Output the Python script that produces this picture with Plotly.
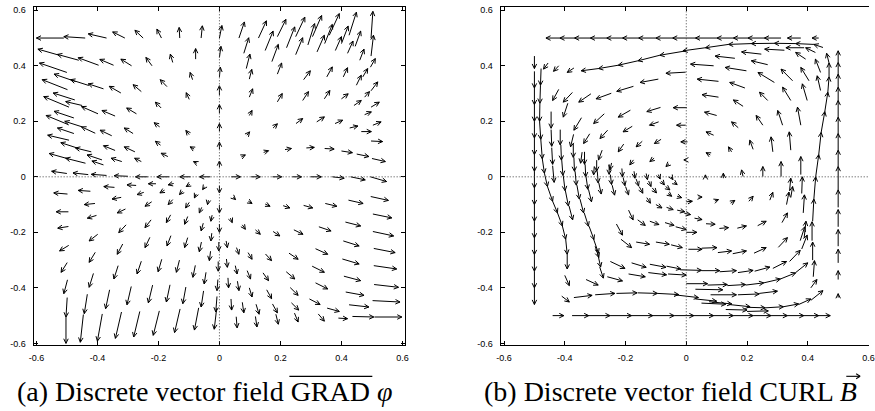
import numpy as np
import plotly.graph_objects as go

# ---------------- tick labels ----------------
tick_vals = [-0.6, -0.4, -0.2, 0, 0.2, 0.4, 0.6]
tick_text = ["-0.6", "-0.4", "-0.2", "0", "0.2", "0.4", "0.6"]

# ---------------- (a) GRAD field: tail x, tail y, u, v ----------------
gul_x = [-0.51,-0.44,-0.37,-0.31,-0.25,-0.19,-0.13,-0.06,
 -0.525,-0.461,-0.396,-0.347,-0.288,-0.221,-0.153,-0.078,
 -0.500,-0.471,-0.498,-0.428,-0.380,-0.323,-0.256,-0.172,-0.088,
 -0.474,-0.493,-0.450,-0.398,-0.342,-0.272,-0.191,-0.099,
 -0.477,-0.495,-0.450,-0.407,-0.353,-0.283,-0.196,-0.099,
 -0.477,-0.493,-0.461,-0.420,-0.385,-0.342,-0.277,-0.193,-0.083,
 -0.493,-0.439,-0.380,-0.320,-0.256,-0.169,-0.074,
 -0.50,-0.43,-0.37,-0.30,-0.235,-0.165,-0.095,-0.03]
gul_y = [0.50,0.50,0.50,0.50,0.50,0.50,0.50,0.50,
 0.438,0.420,0.402,0.402,0.400,0.400,0.412,0.424,
 0.376,0.343,0.314,0.329,0.317,0.302,0.307,0.325,0.350,
 0.277,0.251,0.257,0.227,0.219,0.227,0.248,0.279,
 0.212,0.188,0.180,0.157,0.148,0.156,0.180,0.152,
 0.156,0.132,0.102,0.090,0.061,0.095,0.090,0.114,0.100,
 0.064,0.049,0.043,0.055,0.055,0.073,0.049,
 0.012,0.008,0.005,0.002,0.0,0.0,0.0,0.0]
gul_u = [-0.09,-0.07,-0.06,-0.04,-0.027,-0.015,-0.002,0.004,
 -0.070,-0.070,-0.067,-0.045,-0.035,-0.020,-0.008,0.0,
 -0.090,-0.071,-0.083,-0.060,-0.050,-0.038,-0.027,-0.022,-0.008,
 -0.071,-0.083,-0.054,-0.054,-0.043,-0.032,-0.019,-0.010,
 -0.065,-0.073,-0.057,-0.045,-0.038,-0.029,-0.018,-0.011,
 -0.054,-0.070,-0.059,-0.052,-0.049,-0.038,-0.035,-0.017,-0.013,
 -0.065,-0.065,-0.038,-0.035,-0.022,-0.022,-0.011,
 -0.05,-0.05,-0.05,-0.045,-0.04,-0.04,-0.035,-0.035]
gul_v = [0.0,0.005,0.015,0.022,0.028,0.032,0.038,0.044,
 0.022,0.021,0.027,0.021,0.024,0.030,0.030,0.038,
 0.034,0.027,0.036,0.021,0.018,0.024,0.025,0.025,0.026,
 0.025,0.038,0.014,0.026,0.020,0.021,0.021,0.024,
 0.024,0.033,0.020,0.023,0.020,0.020,0.015,0.015,
 0.020,0.018,0.021,0.014,0.018,0.017,0.018,0.014,0.008,
 0.020,0.018,0.014,0.012,0.012,0.012,0.006,
 0.008,0.006,0.004,0.002,0.0,0.0,0.0,0.0]

gax_x = [0.0,0.0,0.0,0.0,0.0,0.0,0.0,0.0, 0.0,0.0,0.0,-0.002,-0.004]
gax_y = [0.50,0.43,0.36,0.295,0.23,0.165,0.10,0.035, -0.033,-0.102,-0.17,-0.235,-0.305]
gax_u = [0.008,0.005,0.003,0.0,0.0,0.0,0.0,0.0, 0.0,0.0,0.0,0.0,0.0]
gax_v = [0.045,0.04,0.035,0.033,0.03,0.027,0.025,0.022, -0.025,-0.028,-0.03,-0.032,-0.035]

gur_x = [0.064,0.128,0.19,0.25,0.305,0.36,0.425,0.497,
 0.080,0.150,0.22,0.29,0.345,0.40,0.445,0.497,
 0.088,0.172,0.25,0.32,0.38,0.42,0.46,0.495,
 0.098,0.19,0.276,0.352,0.406,0.449,0.47,0.497,
 0.098,0.19,0.273,0.344,0.40,0.441,0.476,0.497,
 0.098,0.176,0.251,0.319,0.379,0.427,0.476,0.503,
 0.09,0.465,0.497,
 0.072,0.145,0.215,0.285,0.345,0.40,0.45,0.50,
 0.039,0.104,0.174,0.239,0.299,0.37,0.43,0.495]
gur_y = [0.50,0.50,0.505,0.505,0.505,0.51,0.51,0.50,
 0.445,0.455,0.465,0.475,0.48,0.48,0.47,0.435,
 0.39,0.415,0.44,0.45,0.455,0.445,0.42,0.395,
 0.352,0.37,0.35,0.36,0.36,0.33,0.36,0.31,
 0.287,0.27,0.275,0.281,0.281,0.257,0.287,0.251,
 0.221,0.176,0.192,0.198,0.192,0.176,0.224,0.186,
 0.15,0.163,0.129,
 0.072,0.088,0.098,0.104,0.102,0.093,0.082,0.066,
 0.0,0.0,0.0,0.0,0.0,0.0,0.0,0.0]
gur_u = [0.018,0.026,0.028,0.03,0.03,0.033,0.024,0.006,
 0.016,0.026,0.027,0.022,0.025,0.022,0.018,0.008,
 0.012,0.021,0.023,0.024,0.02,0.018,0.014,0.016,
 0.008,0.014,0.022,0.018,0.014,0.016,0.016,0.022,
 0.011,0.016,0.019,0.018,0.022,0.024,0.016,0.027,
 0.009,0.014,0.022,0.025,0.025,0.027,0.022,0.027,
 0.009,0.033,0.038,
 0.013,0.016,0.021,0.026,0.031,0.036,0.04,0.044,
 0.03,0.03,0.03,0.03,0.035,0.039,0.048,0.053]
gur_v = [0.058,0.062,0.062,0.07,0.076,0.078,0.083,0.096,
 0.056,0.07,0.075,0.077,0.069,0.063,0.055,0.075,
 0.052,0.062,0.061,0.06,0.05,0.044,0.04,0.031,
 0.035,0.04,0.032,0.036,0.033,0.036,0.03,0.032,
 0.03,0.03,0.032,0.03,0.018,0.018,0.02,0.018,
 0.018,0.015,0.018,0.018,0.012,0.007,0.01,0.012,
 0.012,0.0,-0.002,
 0.007,0.006,0.004,0.002,-0.002,-0.006,-0.009,-0.011,
 0.0,0.0,0.0,0.0,0.0,-0.005,-0.011,-0.017]

gll_x = [-0.498,-0.423,-0.344,-0.273,-0.208,-0.150,-0.097,-0.049,
 -0.495,-0.408,-0.322,-0.248,-0.180,-0.121,-0.076,-0.036,
 -0.495,-0.403,-0.308,-0.222,-0.153,-0.099,-0.058,-0.024,
 -0.494,-0.399,-0.306,-0.224,-0.160,-0.104,-0.053,-0.025,
 -0.499,-0.407,-0.317,-0.228,-0.159,-0.104,-0.059,-0.029,
 -0.498,-0.413,-0.332,-0.256,-0.189,-0.131,-0.079,-0.044,-0.005,
 -0.499,-0.433,-0.360,-0.289,-0.219,-0.162,-0.110,-0.052,-0.008,
 -0.503,-0.446,-0.384,-0.321,-0.261,-0.197,-0.129,-0.068,-0.009]
gll_y = [-0.062,-0.052,-0.038,-0.031,-0.025,-0.024,-0.027,-0.036,
 -0.126,-0.096,-0.074,-0.056,-0.048,-0.052,-0.062,-0.084,
 -0.179,-0.139,-0.116,-0.090,-0.082,-0.092,-0.110,-0.138,
 -0.247,-0.207,-0.173,-0.155,-0.137,-0.143,-0.167,-0.203,
 -0.309,-0.272,-0.242,-0.218,-0.212,-0.219,-0.235,-0.268,
 -0.371,-0.348,-0.320,-0.304,-0.297,-0.300,-0.319,-0.344,-0.370,
 -0.435,-0.423,-0.407,-0.395,-0.390,-0.389,-0.397,-0.411,-0.431,
 -0.505,-0.496,-0.494,-0.487,-0.485,-0.483,-0.476,-0.472,-0.474]
gll_u = [-0.045,-0.04,-0.035,-0.03,-0.025,-0.018,-0.012,-0.006,
 -0.04,-0.035,-0.03,-0.022,-0.015,-0.01,-0.006,-0.003,
 -0.035,-0.03,-0.027,-0.022,-0.015,-0.012,-0.008,-0.004,
 -0.03,-0.028,-0.024,-0.02,-0.014,-0.01,-0.007,-0.003,
 -0.02,-0.02,-0.018,-0.016,-0.013,-0.01,-0.007,-0.004,
 -0.012,-0.014,-0.014,-0.014,-0.012,-0.01,-0.008,-0.006,-0.003,
 -0.004,-0.01,-0.013,-0.014,-0.014,-0.012,-0.01,-0.008,-0.004,
 0.0,-0.01,-0.016,-0.02,-0.02,-0.02,-0.018,-0.014,-0.008]
gll_v = [0.004,0.003,0.003,0.002,0.0,-0.005,-0.008,-0.01,
 0.0,-0.004,-0.006,-0.008,-0.01,-0.012,-0.014,-0.016,
 -0.006,-0.01,-0.014,-0.016,-0.018,-0.02,-0.02,-0.022,
 -0.02,-0.024,-0.028,-0.028,-0.028,-0.028,-0.028,-0.028,
 -0.035,-0.036,-0.037,-0.037,-0.037,-0.036,-0.035,-0.034,
 -0.05,-0.05,-0.048,-0.046,-0.045,-0.044,-0.043,-0.042,-0.04,
 -0.07,-0.07,-0.068,-0.066,-0.064,-0.062,-0.06,-0.058,-0.056,
 -0.095,-0.1,-0.098,-0.095,-0.092,-0.088,-0.085,-0.08,-0.075]

glr_x = [0.045,0.095,0.150,0.209,0.276,0.347,0.423,0.496,
 0.036,0.075,0.118,0.176,0.244,0.326,0.413,0.503,
 0.022,0.056,0.094,0.151,0.228,0.315,0.406,0.503,
 0.023,0.052,0.091,0.143,0.219,0.304,0.403,0.506,
 0.028,0.059,0.098,0.155,0.232,0.315,0.408,0.506,
 0.038,0.075,0.12,0.174,0.236,0.295,0.414,0.507,
 0.055,0.118,0.185,0.246,0.324,0.353,0.425,0.502,
 0.39,0.436,0.508]
glr_y = [-0.074,-0.088,-0.098,-0.104,-0.103,-0.096,-0.084,-0.071,
 -0.149,-0.173,-0.191,-0.197,-0.191,-0.180,-0.163,-0.134,
 -0.231,-0.255,-0.273,-0.278,-0.275,-0.259,-0.231,-0.197,
 -0.296,-0.320,-0.338,-0.346,-0.342,-0.322,-0.296,-0.258,
 -0.364,-0.376,-0.400,-0.407,-0.399,-0.382,-0.358,-0.320,
 -0.44,-0.452,-0.459,-0.458,-0.454,-0.44,-0.415,-0.388,
 -0.504,-0.503,-0.495,-0.491,-0.494,-0.473,-0.461,-0.446,
 -0.509,-0.503,-0.505]
glr_u = [0.008,0.012,0.016,0.022,0.03,0.038,0.048,0.058,
 0.006,0.01,0.016,0.022,0.03,0.04,0.05,0.062,
 0.004,0.008,0.013,0.02,0.03,0.04,0.052,0.068,
 0.003,0.006,0.011,0.018,0.028,0.04,0.055,0.07,
 0.002,0.005,0.009,0.016,0.026,0.04,0.055,0.075,
 0.002,0.005,0.01,0.016,0.024,0.035,0.06,0.08,
 0.003,0.005,0.008,0.012,0.02,0.04,0.065,0.09,
 0.03,0.07,0.09]
glr_v = [-0.008,-0.008,-0.008,-0.008,-0.009,-0.01,-0.012,-0.014,
 -0.016,-0.016,-0.016,-0.016,-0.016,-0.015,-0.014,-0.014,
 -0.024,-0.024,-0.024,-0.024,-0.022,-0.02,-0.018,-0.016,
 -0.03,-0.03,-0.03,-0.028,-0.026,-0.022,-0.018,-0.015,
 -0.036,-0.034,-0.033,-0.032,-0.028,-0.022,-0.016,-0.012,
 -0.04,-0.038,-0.036,-0.032,-0.026,-0.02,-0.012,-0.01,
 -0.04,-0.038,-0.036,-0.032,-0.026,-0.012,-0.008,-0.005,
 -0.002,-0.002,0.0]

# ---------------- (b) CURL field: tail x, tail y, u, v ----------------
c1t_x = [-0.416,-0.368,-0.316,-0.262,-0.210,-0.157,-0.100,-0.045,0.030,0.101,0.155,0.203,0.257,0.312,0.377,0.436]
c1t_y = [0.5,0.5,0.5,0.5,0.5,0.5,0.5,0.5,0.5,0.5,0.5,0.5,0.5,0.5,0.5,0.5]
c1t_u = [-0.046,-0.048,-0.052,-0.054,-0.052,-0.053,-0.057,-0.055,-0.075,-0.071,-0.054,-0.048,-0.054,-0.055,-0.044,-0.022]
c1t_v = [0.0,0.0,0.0,0.0,0.0,0.0,0.0,0.0,0.0,0.0,0.0,0.0,0.0,0.0,0.0,0.0]

c1l_x = [-0.5,-0.5,-0.5,-0.5,-0.5,-0.5,-0.5,-0.5,-0.5,-0.5,-0.5,-0.5,-0.5,-0.5,-0.5]
c1l_y = [0.435,0.38,0.32,0.26,0.20,0.14,0.08,0.02,-0.04,-0.10,-0.16,-0.22,-0.28,-0.34,-0.40]
c1l_u = [0.0,0.0,0.0,0.0,0.0,0.0,0.0,0.0,0.0,0.0,0.0,0.0,0.0,0.0,0.0]
c1l_v = [-0.045,-0.06,-0.06,-0.06,-0.06,-0.06,-0.06,-0.06,-0.06,-0.06,-0.06,-0.06,-0.06,-0.06,-0.06]

c1b_x = [-0.440,-0.376,-0.321,-0.251,-0.180,-0.110,-0.040,0.025,0.090,0.155,0.220,0.279,0.333,0.387,0.436]
c1b_y = [-0.5,-0.5,-0.5,-0.5,-0.5,-0.5,-0.5,-0.5,-0.5,-0.5,-0.5,-0.5,-0.5,-0.5,-0.5]
c1b_u = [0.037,0.055,0.070,0.071,0.070,0.070,0.065,0.065,0.065,0.065,0.059,0.054,0.054,0.049,0.038]
c1b_v = [0.0,0.0,0.0,0.0,0.0,0.0,0.0,0.0,0.0,0.0,0.0,0.0,0.0,0.0,0.0]

c1r_x = [0.5,0.5,0.5,0.5,0.5,0.5,0.5,0.5,0.5,0.5,0.5,0.5,0.5,0.5,0.5]
c1r_y = [-0.435,-0.37,-0.31,-0.25,-0.18,-0.11,-0.047,0.037,0.096,0.156,0.215,0.275,0.323,0.370,0.412]
c1r_u = [0.0,0.0,0.0,0.0,0.0,0.0,0.0,0.0,0.0,0.0,0.0,0.0,0.0,0.0,0.0]
c1r_v = [0.014,0.032,0.049,0.06,0.062,0.063,0.084,0.059,0.06,0.059,0.06,0.048,0.047,0.042,0.042]

c2t_x = [0.450,0.420,0.360,0.290,0.214,0.139,0.063,0.0,-0.087,-0.159,-0.224,-0.289,-0.37,-0.42,-0.455]
c2t_y = [0.466,0.477,0.480,0.481,0.480,0.477,0.465,0.454,0.438,0.418,0.402,0.390,0.392,0.40,0.41]
c2t_u = [-0.030,-0.060,-0.070,-0.076,-0.075,-0.076,-0.074,-0.087,-0.072,-0.065,-0.065,-0.057,-0.022,-0.017,-0.015]
c2t_v = [0.011,0.003,0.001,-0.001,-0.003,-0.012,-0.011,-0.016,-0.020,-0.016,-0.012,-0.008,-0.016,-0.02,-0.022]

c2l_x = [-0.478,-0.480,-0.482,-0.483,-0.479,-0.474,-0.467,-0.457,-0.440,-0.424,-0.408,-0.397,-0.392,-0.40,-0.41]
c2l_y = [0.39,0.33,0.265,0.20,0.135,0.065,0.013,-0.035,-0.088,-0.13,-0.177,-0.225,-0.279,-0.355,-0.43]
c2l_u = [-0.002,-0.002,-0.001,0.004,0.005,0.007,0.010,0.017,0.016,0.016,0.011,0.005,0.0,0.015,0.025]
c2l_v = [-0.06,-0.065,-0.065,-0.065,-0.07,-0.052,-0.048,-0.053,-0.042,-0.047,-0.048,-0.054,-0.053,-0.037,-0.021]

c2b_x = [-0.37,-0.30,-0.23,-0.16,-0.095,-0.04,0.03,0.075,0.14,0.2,0.26,0.32,0.37,0.41]
c2b_y = [-0.435,-0.425,-0.42,-0.418,-0.42,-0.425,-0.44,-0.45,-0.46,-0.47,-0.472,-0.468,-0.46,-0.445]
c2b_u = [0.06,0.065,0.068,0.065,0.07,0.08,0.07,0.075,0.07,0.06,0.06,0.05,0.04,0.04]
c2b_v = [0.008,0.005,0.002,-0.002,-0.004,-0.01,-0.008,-0.008,-0.008,-0.002,0.004,0.01,0.02,0.035]

c2r_x = [0.41,0.418,0.416,0.414,0.416,0.42,0.426,0.436,0.444,0.456,0.466,0.47,0.47]
c2r_y = [-0.40,-0.36,-0.30,-0.23,-0.16,-0.08,0.0,0.08,0.16,0.235,0.305,0.36,0.41]
c2r_u = [0.02,0.004,0.0,0.0,0.004,0.006,0.01,0.008,0.012,0.01,0.004,0.0,-0.008]
c2r_v = [0.03,0.058,0.065,0.068,0.08,0.08,0.08,0.08,0.075,0.07,0.055,0.05,0.035]

cur_x = [0.09,0.106,0.106,0.10,0.09,0.079,
 0.16,0.198,0.193,0.187,0.171,0.149,
 0.247,0.268,0.29,0.268,0.252,0.22,0.187,
 0.323,0.35,0.344,0.317,0.285,0.252,0.122,0.063,
 0.388,0.393,0.404,0.398,0.377,0.344,0.312,
 0.425,0.442,0.442,0.377]
cur_y = [0.40,0.344,0.287,0.221,0.15,0.079,
 0.427,0.382,0.320,0.254,0.177,0.090,
 0.442,0.404,0.34,0.275,0.186,0.099,0.001,
 0.456,0.346,0.275,0.186,0.090,0.001,-0.005,-0.003,
 0.465,0.424,0.346,0.275,0.186,0.096,0.001,
 0.448,0.376,0.311,0.008]
cur_u = [-0.076,-0.07,-0.054,-0.04,-0.025,-0.014,
 -0.065,-0.07,-0.05,-0.032,-0.022,-0.01,
 -0.065,-0.054,-0.054,-0.027,-0.022,-0.011,-0.005,
 -0.065,-0.038,-0.027,-0.016,-0.006,0.0,0.0,0.0,
 -0.06,-0.033,-0.027,-0.016,-0.011,-0.005,0.0,
 -0.032,-0.017,-0.011,0.0]
cur_v = [0.006,0.008,0.009,0.012,0.012,0.008,
 0.008,0.012,0.02,0.023,0.021,0.018,
 0.008,0.014,0.036,0.03,0.035,0.033,0.024,
 0.004,0.042,0.048,0.053,0.054,0.036,0.018,0.01,
 0.0,0.024,0.048,0.06,0.065,0.066,0.054,
 0.017,0.048,0.053,0.065]

cul_x = [-0.420,-0.375,-0.314,-0.247,-0.174,-0.092,-0.002,
 -0.39,-0.345,-0.27,-0.184,-0.085,0.002,
 -0.371,-0.318,-0.259,-0.178,-0.091,-0.002,
 -0.343,-0.277,-0.206,-0.145,-0.083,0.004,
 -0.303,-0.246,-0.174,-0.106,-0.057,0.0,
 -0.445,-0.445,-0.443,-0.44]
cul_y = [0.315,0.304,0.299,0.301,0.326,0.352,0.377,
 0.265,0.213,0.227,0.24,0.25,0.249,
 0.153,0.155,0.168,0.182,0.198,0.186,
 0.089,0.096,0.118,0.128,0.135,0.126,
 0.037,0.05,0.061,0.067,0.047,0.061,
 0.235,0.17,0.105,0.04]
cul_u = [-0.02,-0.03,-0.04,-0.05,-0.055,-0.06,-0.065,
 -0.015,-0.025,-0.035,-0.04,-0.045,-0.045,
 -0.01,-0.02,-0.025,-0.03,-0.03,-0.03,
 -0.005,-0.012,-0.018,-0.02,-0.022,-0.022,
 -0.002,-0.005,-0.012,-0.014,-0.01,-0.008,
 0.0,0.002,0.003,0.005]
cul_v = [-0.04,-0.035,-0.03,-0.02,-0.018,-0.012,-0.004,
 -0.05,-0.045,-0.035,-0.025,-0.015,0.0,
 -0.045,-0.035,-0.03,-0.02,-0.012,0.0,
 -0.04,-0.035,-0.028,-0.02,-0.015,0.0,
 -0.03,-0.025,-0.018,-0.012,-0.01,0.0,
 -0.06,-0.06,-0.06,-0.06]

cld_x = [-0.415,-0.413,-0.41,-0.405,-0.398,-0.386,
 -0.372,-0.37,-0.366,-0.36,-0.35,-0.336,-0.32,-0.305,-0.292,-0.285,
 -0.335,-0.333,-0.33,-0.322,
 -0.295,-0.293,-0.288,
 -0.254,-0.25,-0.244,
 -0.212,-0.208,-0.2,
 -0.172,-0.165,-0.155,
 -0.132,-0.124,-0.112,
 -0.092,-0.082,-0.068,
 -0.05,-0.04]
cld_y = [0.17,0.115,0.06,0.005,-0.05,-0.105,
 0.12,0.07,0.02,-0.03,-0.08,-0.13,-0.178,-0.225,-0.275,-0.325,
 0.09,0.045,0.0,-0.045,
 0.06,0.02,-0.022,
 0.045,0.008,-0.03,
 0.03,-0.002,-0.035,
 0.02,-0.008,-0.035,
 0.012,-0.015,-0.04,
 0.008,-0.015,-0.035,
 0.0,-0.02]
cld_u = [0.0,0.002,0.004,0.006,0.01,0.012,
 0.0,0.002,0.004,0.008,0.012,0.014,0.016,0.016,0.01,0.012,
 0.0,0.002,0.006,0.01,
 0.0,0.003,0.008,
 0.0,0.004,0.008,
 0.002,0.006,0.01,
 0.003,0.008,0.012,
 0.004,0.008,0.014,
 0.006,0.01,0.014,
 0.006,0.01]
cld_v = [-0.055,-0.055,-0.055,-0.055,-0.055,-0.05,
 -0.05,-0.05,-0.05,-0.05,-0.05,-0.048,-0.048,-0.05,-0.05,-0.04,
 -0.045,-0.045,-0.045,-0.045,
 -0.04,-0.042,-0.04,
 -0.036,-0.036,-0.036,
 -0.03,-0.03,-0.03,
 -0.025,-0.025,-0.024,
 -0.022,-0.02,-0.018,
 -0.016,-0.014,-0.012,
 -0.01,-0.008]

clb_x = [-0.33,-0.26,-0.19,-0.125,-0.06,
 -0.30,-0.25,-0.18,-0.12,-0.065,
 -0.23,-0.215,-0.165,-0.10,-0.05,
 -0.19,-0.16,-0.12,-0.07,-0.035,
 -0.13,-0.1,-0.065,-0.03,
 -0.06,-0.03]
clb_y = [-0.37,-0.36,-0.35,-0.345,-0.35,
 -0.25,-0.305,-0.31,-0.315,-0.322,
 -0.17,-0.225,-0.235,-0.235,-0.245,
 -0.12,-0.155,-0.16,-0.165,-0.18,
 -0.075,-0.1,-0.11,-0.12,
 -0.06,-0.07]
clb_u = [0.04,0.05,0.055,0.06,0.06,
 0.012,0.048,0.048,0.053,0.047,
 0.02,0.035,0.044,0.044,0.037,
 0.015,0.025,0.03,0.03,0.035,
 0.012,0.02,0.022,0.025,
 0.012,0.015]
clb_v = [-0.02,-0.015,-0.01,-0.008,-0.004,
 -0.04,-0.025,-0.016,-0.011,-0.01,
 -0.04,-0.03,-0.008,-0.008,-0.01,
 -0.035,-0.02,-0.012,-0.01,-0.01,
 -0.02,-0.012,-0.008,-0.006,
 -0.01,-0.005]

clr_x = [0.04,0.094,0.146,0.206,0.275,0.344,
 -0.006,0.027,0.065,0.109,0.168,0.235,0.315,
 0.007,0.051,0.104,0.153,0.223,0.303,0.375,
 -0.02,0.05,0.11,0.17,0.225,0.285,0.34,0.38,
 0.0,0.07,0.135,0.195,0.255,0.31,0.36,
 0.03,0.08,0.17,0.24,
 0.05,0.13,0.2,
 0.0,0.0,
 0.388,0.385,0.38,0.33,0.34]
clr_y = [-0.073,-0.087,-0.095,-0.088,-0.084,-0.075,
 -0.132,-0.149,-0.169,-0.186,-0.185,-0.176,-0.165,
 -0.261,-0.257,-0.273,-0.277,-0.275,-0.254,-0.23,
 -0.335,-0.338,-0.342,-0.345,-0.34,-0.33,-0.305,-0.26,
 -0.385,-0.39,-0.392,-0.39,-0.382,-0.368,-0.345,
 -0.405,-0.425,-0.425,-0.42,
 -0.455,-0.478,-0.485,
 -0.09,-0.2,
 -0.22,-0.13,-0.06,-0.1,-0.05]
clr_u = [0.012,0.012,0.014,0.014,0.01,0.006,
 0.02,0.025,0.03,0.03,0.03,0.028,0.018,
 0.045,0.05,0.045,0.045,0.04,0.03,0.015,
 0.07,0.06,0.055,0.05,0.05,0.045,0.035,0.018,
 0.07,0.065,0.06,0.06,0.055,0.05,0.04,
 0.09,0.085,0.07,0.06,
 0.08,0.07,0.07,
 0.02,0.035,
 0.006,0.004,0.002,0.008,0.004]
clr_v = [0.0,0.005,0.01,0.018,0.028,0.04,
 -0.004,-0.005,-0.002,0.003,0.008,0.016,0.035,
 0.0,0.002,0.006,0.01,0.02,0.035,0.05,
 -0.002,0.0,0.004,0.008,0.015,0.025,0.04,0.05,
 0.0,0.002,0.004,0.008,0.014,0.022,0.035,
 -0.002,0.0,0.003,0.008,
 -0.004,-0.002,0.002,
 0.002,0.0,
 0.06,0.065,0.06,0.045,0.045]

grad_groups = [(gul_x, gul_y, gul_u, gul_v), (gax_x, gax_y, gax_u, gax_v),
               (gur_x, gur_y, gur_u, gur_v), (gll_x, gll_y, gll_u, gll_v),
               (glr_x, glr_y, glr_u, glr_v)]
curl_groups = [(c1t_x, c1t_y, c1t_u, c1t_v), (c1l_x, c1l_y, c1l_u, c1l_v),
               (c1b_x, c1b_y, c1b_u, c1b_v), (c1r_x, c1r_y, c1r_u, c1r_v),
               (c2t_x, c2t_y, c2t_u, c2t_v), (c2l_x, c2l_y, c2l_u, c2l_v),
               (c2b_x, c2b_y, c2b_u, c2b_v), (c2r_x, c2r_y, c2r_u, c2r_v),
               (cur_x, cur_y, cur_u, cur_v), (cul_x, cul_y, cul_u, cul_v),
               (cld_x, cld_y, cld_u, cld_v), (clb_x, clb_y, clb_u, clb_v),
               (clr_x, clr_y, clr_u, clr_v)]

# ---------------- layout geometry ----------------
W, H = 875, 411
dom_x1 = [29 / W, 405 / W]
dom_x2 = [502 / W, 1.0]
dom_y = [(H - 347.7) / H, (H - 6) / H]
rng_x1 = [-0.609, 0.608]
rng_x2 = [-0.611, 0.6015]
rng_y = [-0.607, 0.612]

HEAD = 5.2
ANG = np.radians(26)


def px_scale(dom, rng, total):
    return (dom[1] - dom[0]) * total / (rng[1] - rng[0])


def quiver(groups, sx, sy):
    X, Y = [], []
    for xs, ys, us, vs in groups:
        n = min(len(xs), len(ys), len(us), len(vs))
        for x, y, u, v in zip(xs[:n], ys[:n], us[:n], vs[:n]):
            x1, y1 = x + u, y + v
            X += [x, x1, None]
            Y += [y, y1, None]
            du, dv = u * sx, v * sy
            L = float(np.hypot(du, dv))
            if L < 1e-9:
                continue
            ex, ey = du / L, dv / L
            pts = []
            for s in (1, -1):
                a = s * ANG
                rx = ex * np.cos(a) - ey * np.sin(a)
                ry = ex * np.sin(a) + ey * np.cos(a)
                pts.append((x1 - HEAD * rx / sx, y1 - HEAD * ry / sy))
            X += [pts[0][0], x1, pts[1][0], None]
            Y += [pts[0][1], y1, pts[1][1], None]
    return X, Y


sx1 = px_scale(dom_x1, rng_x1, W)
sx2 = px_scale(dom_x2, rng_x2, W)
sy = px_scale(dom_y, rng_y, H)

ax1, ay1 = quiver(grad_groups, sx1, sy)
ax2, ay2 = quiver(curl_groups, sx2, sy)

fig = go.Figure()
fig.add_trace(go.Scatter(x=ax1, y=ay1, mode="lines", xaxis="x", yaxis="y",
                         line=dict(color="black", width=1), hoverinfo="skip"))
fig.add_trace(go.Scatter(x=ax2, y=ay2, mode="lines", xaxis="x2", yaxis="y2",
                         line=dict(color="black", width=1), hoverinfo="skip"))

tickfont = dict(family="Liberation Sans, Arial, sans-serif", size=9, color="black")
common = dict(showgrid=False, zeroline=False, showline=True, linecolor="black",
              linewidth=1, ticks="inside", ticklen=4, tickcolor="black",
              tickvals=tick_vals, ticktext=tick_text, tickfont=tickfont,
              fixedrange=True)

fig.update_layout(
    width=W, height=H, autosize=False,
    margin=dict(l=0, r=0, t=0, b=0),
    paper_bgcolor="white", plot_bgcolor="white",
    showlegend=False,
    xaxis=dict(domain=dom_x1, range=rng_x1, anchor="y", mirror="ticks",
               ticklabelstandoff=4, **common),
    yaxis=dict(domain=dom_y, range=rng_y, anchor="x", mirror="ticks",
               ticklabelstandoff=5, **common),
    xaxis2=dict(domain=dom_x2, range=rng_x2, anchor="y2", mirror="ticks",
                ticklabelstandoff=4, ticklabeloverflow="allow", **common),
    yaxis2=dict(domain=dom_y, range=rng_y, anchor="x2", mirror=False,
                ticklabelstandoff=5, **common),
)

dot = dict(color="#444", width=1, dash="1px,2px")
cap_y = 394            # caption centre, pixels from the top
over_y = 379           # overline / vector arrow height, pixels from the top
shapes = [
    dict(type="line", xref="x", yref="y", x0=0, x1=0, y0=rng_y[0], y1=rng_y[1], line=dot),
    dict(type="line", xref="x", yref="y", x0=rng_x1[0], x1=rng_x1[1], y0=0, y1=0, line=dot),
    dict(type="line", xref="x2", yref="y2", x0=0, x1=0, y0=rng_y[0], y1=rng_y[1], line=dot),
    dict(type="line", xref="x2", yref="y2", x0=rng_x2[0], x1=rng_x2[1], y0=0, y1=0, line=dot),
    # overline above GRAD
    dict(type="line", xref="paper", yref="paper", x0=288 / W, x1=372 / W,
         y0=(H - over_y) / H, y1=(H - over_y) / H, line=dict(color="black", width=1.2)),
    # vector arrow above B
    dict(type="line", xref="paper", yref="paper", x0=852 / W, x1=866 / W,
         y0=(H - over_y) / H, y1=(H - over_y) / H, line=dict(color="black", width=1.1)),
    dict(type="line", xref="paper", yref="paper", x0=862 / W, x1=866 / W,
         y0=(H - over_y + 2.5) / H, y1=(H - over_y) / H, line=dict(color="black", width=1.1)),
    dict(type="line", xref="paper", yref="paper", x0=862 / W, x1=866 / W,
         y0=(H - over_y - 2.5) / H, y1=(H - over_y) / H, line=dict(color="black", width=1.1)),
]
fig.update_layout(shapes=shapes)

capfont = dict(family="Liberation Serif, Times New Roman, serif", size=28, color="black")
fig.add_annotation(x=10 / W, y=(H - cap_y) / H, xref="paper", yref="paper",
                   xanchor="left", yanchor="middle", showarrow=False,
                   text="(a) Discrete vector field GRAD <i>φ</i>", font=capfont)
fig.add_annotation(x=483 / W, y=(H - cap_y) / H, xref="paper", yref="paper",
                   xanchor="left", yanchor="middle", showarrow=False,
                   text="(b) Discrete vector field CURL <i>B</i>", font=capfont)

fig.write_html("out.html", config={"displayModeBar": False},
               post_script="document.body.style.margin='0';document.body.style.overflow='hidden';")
